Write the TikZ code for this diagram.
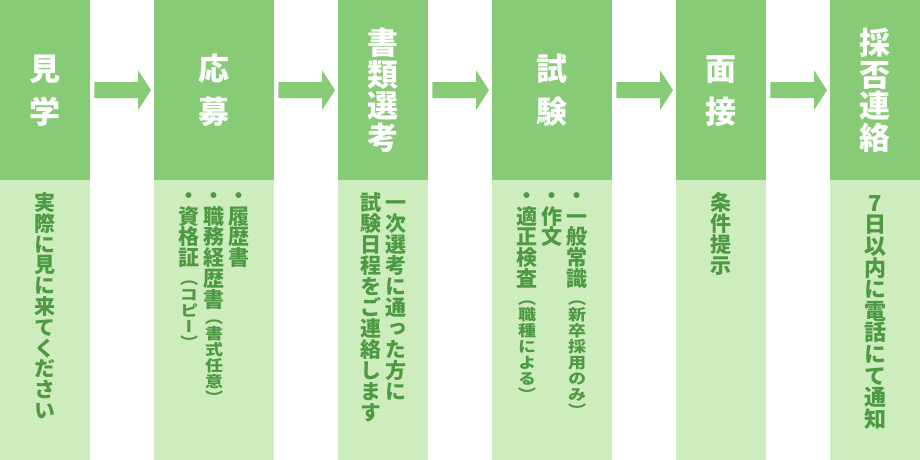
\documentclass[tikz,border=0pt]{standalone}
\usepackage{fontspec}
\usepackage{graphicx}
\usetikzlibrary{calc}
\newfontfamily\jp{Noto Sans CJK JP}[RawFeature=+vert]
\definecolor{hdrc}{HTML}{88CB76}
\definecolor{bodc}{HTML}{CDEDBF}
\definecolor{txtc}{HTML}{4E9A42}
\newcommand\slotbox[4]{\hbox to 30pt{\hss\vbox to #1pt{\vss\hbox{\fontsize{#2}{#2}\selectfont\scalebox{1}[#4]{\raisebox{0pt}[0.88em][0.12em]{#3}}}\vss}\hss}}
\ExplSyntaxOn
\NewDocumentCommand\VT{mmm}{\tl_map_inline:nn {#3}{\slotbox{#1}{#2}{##1}{1}}}
\NewDocumentCommand\VS{mmm}{\tl_map_inline:nn {#3}{\slotbox{#1}{#2}{##1}{0.85}}}
\ExplSyntaxOff
\newcommand\VC[1]{\vbox{\offinterlineskip #1}}
\tikzset{
  hdr/.style={fill=hdrc, draw=none, minimum height=180pt, inner sep=0pt, anchor=north west, text=white, font=\jp\bfseries},
  bod/.style={fill=bodc, draw=none, minimum height=280pt, inner sep=0pt, anchor=north west},
  btxt/.style={anchor=north, inner sep=0pt, text=txtc, font=\jp\bfseries},
  arr/.style={fill=hdrc, draw=none}
}
\begin{document}
\begin{tikzpicture}[x=1pt,y=-1pt]
\useasboundingbox (0,0) rectangle (920,460);
% headers
\node[hdr, minimum width=90pt]  (h1) at (0,0)   {\VC{\VT{43}{31}{見学}}};
\node[hdr, minimum width=120pt] (h2) at (154,0) {\VC{\VT{43}{31}{応募}}};
\node[hdr, minimum width=90pt]  (h3) at (338,0) {\VC{\VT{31.5}{31}{書類選考}}};
\node[hdr, minimum width=120pt] (h4) at (492,0) {\VC{\VT{43}{31}{試験}}};
\node[hdr, minimum width=90pt]  (h5) at (676,0) {\VC{\VT{43}{31}{面接}}};
\node[hdr, minimum width=90pt]  (h6) at (830,0) {\VC{\VT{31.5}{31}{採否連絡}}};
% bodies
\node[bod, minimum width=90pt]  (b1) at (0,180)   {};
\node[bod, minimum width=120pt] (b2) at (154,180) {};
\node[bod, minimum width=90pt]  (b3) at (338,180) {};
\node[bod, minimum width=120pt] (b4) at (492,180) {};
\node[bod, minimum width=90pt]  (b5) at (676,180) {};
\node[bod, minimum width=90pt]  (b6) at (830,180) {};
% arrows
\foreach \a/\b in {h1/h2,h2/h3,h3/h4,h4/h5,h5/h6}{
  \fill[arr] ($(\a.east)+(4,-8)$) -- ($(\b.west)+(-16,-8)$) -- ($(\b.west)+(-16,-20)$)
    -- ($(\b.west)+(-3,0)$) -- ($(\b.west)+(-16,20)$) -- ($(\b.west)+(-16,8)$)
    -- ($(\a.east)+(4,8)$) -- cycle;
}
% body texts
\node[btxt] (t1) at (45,192) {\VC{\VT{20.8}{21}{実際に見に来てください}}};
\node[btxt] (t2a) at (239,185) {\VC{\VT{20.7}{21}{・履歴書}}};
\node[btxt] (t2b) at (214,185) {\VC{\VT{20.7}{21}{・職務経歴書}\VS{16}{18}{（書式任意）}}};
\node[btxt] (t2c) at (189,185) {\VC{\VT{20.7}{21}{・資格証}\vskip3pt\VS{16}{18}{（コピー）}}};
\node[btxt] (t3a) at (396,192) {\VC{\VT{21}{21}{一次選考に通った方に}}};
\node[btxt] (t3b) at (371,192) {\VC{\VT{21}{21}{試験日程をご連絡します}}};
\node[btxt] (t4a) at (577,185) {\VC{\VT{20.7}{21}{・一般常識}\vskip2pt\VS{16}{18}{（新卒採用のみ）}}};
\node[btxt] (t4b) at (552,185) {\VC{\VT{20.7}{21}{・作文}}};
\node[btxt] (t4c) at (527,185) {\VC{\VT{20.7}{21}{・適正検査}\vskip2pt\VS{16}{18}{（職種による）}}};
\node[btxt] (t5) at (721,192) {\VC{\VT{21}{21}{条件提示}}};
\node[btxt] (t6) at (875,192) {\VC{\VT{21.6}{22}{7日以内に電話にて通知}}};
\end{tikzpicture}
\end{document}
